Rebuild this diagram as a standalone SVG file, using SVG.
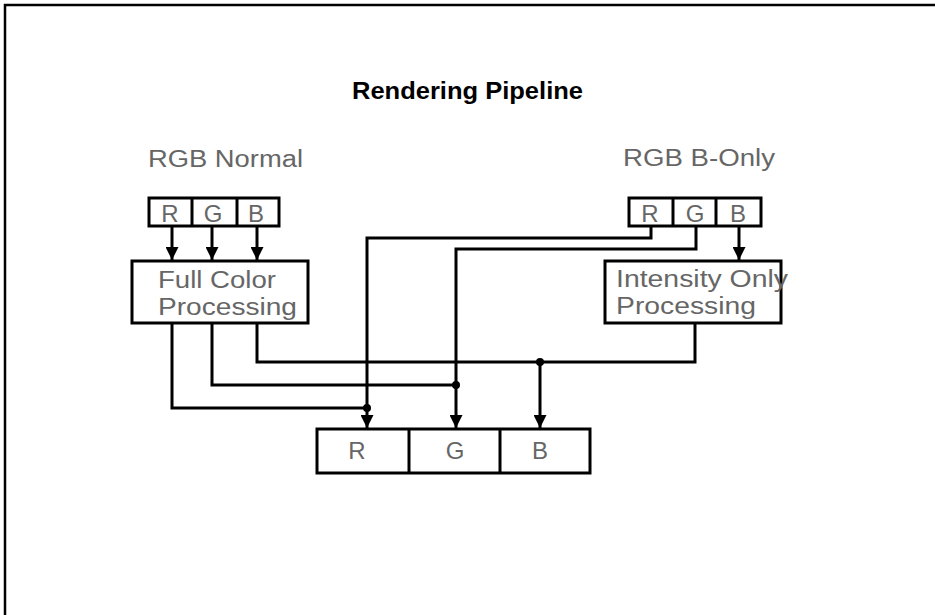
<svg xmlns="http://www.w3.org/2000/svg" width="935" height="615" viewBox="0 0 935 615">
<style>
.box{fill:#fff;stroke:#000;stroke-width:3}
.div{stroke:#000;stroke-width:3}
.lbl{font-family:"Liberation Sans",Arial,sans-serif;font-size:23px;fill:#666}
.cell{font-family:"Liberation Sans",Arial,sans-serif;font-size:24px;fill:#666;text-anchor:middle}
.title{font-family:"Liberation Sans",Arial,sans-serif;font-size:23px;font-weight:bold;fill:#000}
.con{fill:none;stroke:#000;stroke-width:3}
.arr{marker-end:url(#ah)}
</style>
<defs>
<marker id="ah" markerUnits="userSpaceOnUse" markerWidth="13" markerHeight="13" viewBox="0 0 13 13" refX="13" refY="6.5" orient="auto">
<path d="M0,0 L13,6.5 L0,13 z" fill="#000"/>
</marker>
</defs>
<rect width="935" height="615" fill="#fff"/>
<path d="M5,615 V5 H935" fill="none" stroke="#000" stroke-width="2.5"/>
<text class="title" x="352" y="99" textLength="231" lengthAdjust="spacingAndGlyphs">Rendering Pipeline</text>
<text class="lbl" x="148" y="167" textLength="155" lengthAdjust="spacingAndGlyphs">RGB Normal</text>
<text class="lbl" x="623" y="166" textLength="152" lengthAdjust="spacingAndGlyphs">RGB B-Only</text>

<g id="left-rgb">
<rect class="box" x="149" y="198" width="130" height="28"/>
<line class="div" x1="192" y1="198" x2="192" y2="226"/>
<line class="div" x1="237" y1="198" x2="237" y2="226"/>
<text class="cell" x="170" y="222">R</text>
<text class="cell" x="213" y="222">G</text>
<text class="cell" x="256" y="222">B</text>
</g>
<g id="right-rgb">
<rect class="box" x="629" y="198" width="132" height="28"/>
<line class="div" x1="673" y1="198" x2="673" y2="226"/>
<line class="div" x1="716" y1="198" x2="716" y2="226"/>
<text class="cell" x="650" y="222">R</text>
<text class="cell" x="695" y="222">G</text>
<text class="cell" x="738" y="222">B</text>
</g>
<g id="full-color">
<rect class="box" x="132" y="261" width="176" height="62"/>
<text class="lbl" x="158" y="288" textLength="118" lengthAdjust="spacingAndGlyphs">Full Color</text>
<text class="lbl" x="158" y="315" textLength="139" lengthAdjust="spacingAndGlyphs">Processing</text>
</g>
<g id="intensity">
<rect class="box" x="605" y="261" width="176" height="62"/>
<text class="lbl" x="616" y="287" textLength="172" lengthAdjust="spacingAndGlyphs">Intensity Only</text>
<text class="lbl" x="616" y="314" textLength="140" lengthAdjust="spacingAndGlyphs">Processing</text>
</g>
<g id="output-rgb">
<rect class="box" x="317" y="429" width="273" height="44"/>
<line class="div" x1="409" y1="429" x2="409" y2="473"/>
<line class="div" x1="500" y1="429" x2="500" y2="473"/>
<text class="cell" x="357" y="459">R</text>
<text class="cell" x="455" y="459">G</text>
<text class="cell" x="540" y="459">B</text>
</g>
<g id="connectors">
<path class="con arr" d="M172,226 V260"/>
<path class="con arr" d="M212,226 V260"/>
<path class="con arr" d="M257,226 V260"/>
<path class="con arr" d="M739,226 V260"/>
<path class="con arr" d="M651,226 V238 H367 V428"/>
<path class="con arr" d="M696,226 V249 H456 V428"/>
<path class="con" d="M172,323 V408 H367"/>
<path class="con" d="M212,323 V385 H456"/>
<path class="con arr" d="M257,323 V362 H540 V428"/>
<path class="con" d="M695,323 V362 H540"/>
<circle cx="367" cy="408" r="4"/>
<circle cx="456" cy="385" r="4"/>
<circle cx="540" cy="362" r="4"/>
</g>
</svg>
